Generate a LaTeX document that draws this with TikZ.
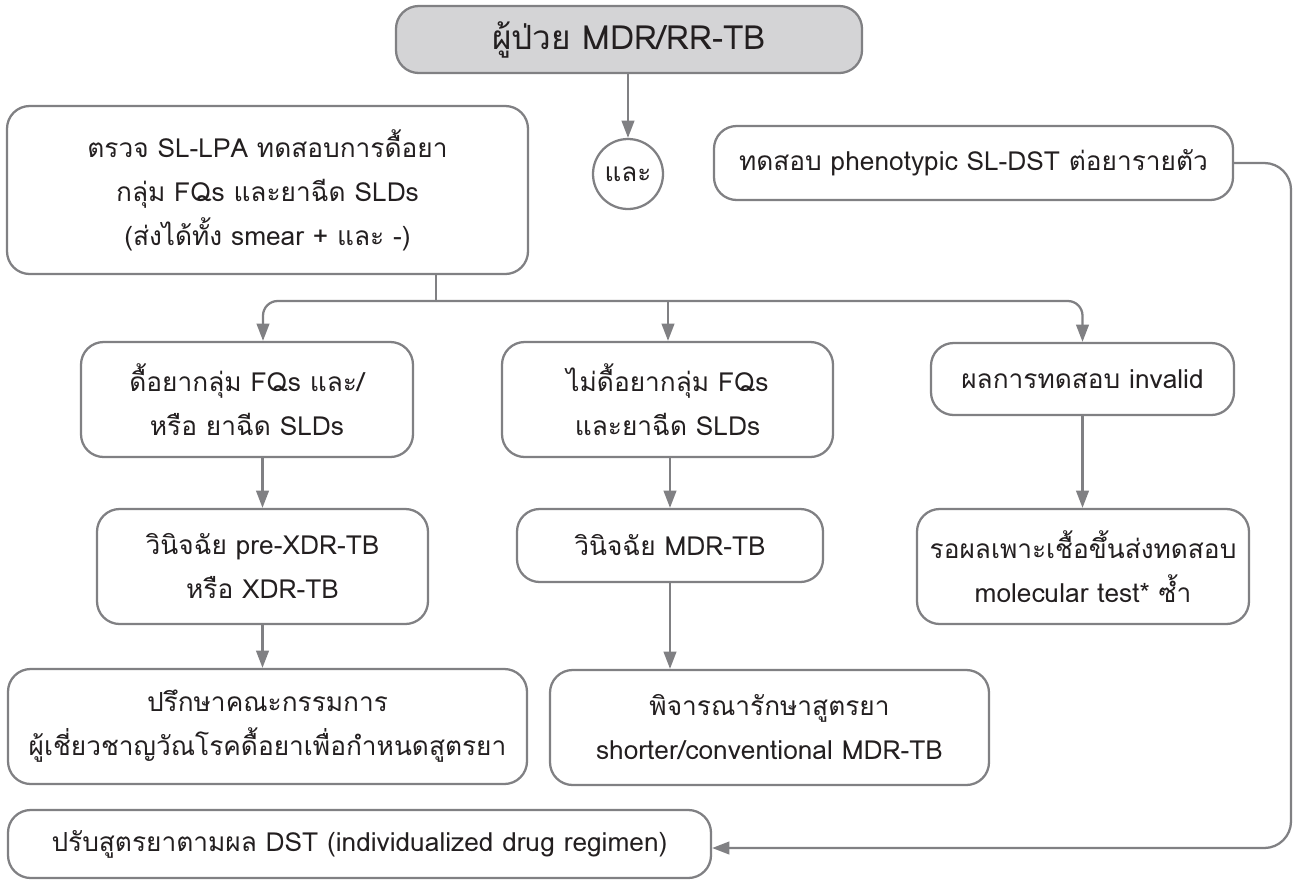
\documentclass[tikz,border=0pt]{standalone}
\usepackage{fontspec}
\setmainfont[Script=Thai]{Loma}
\usetikzlibrary{arrows.meta}
\definecolor{linegray}{RGB}{128,128,131}
\definecolor{boxfill}{RGB}{212,212,214}
\definecolor{inkcol}{RGB}{35,31,32}
\begin{document}
\begin{tikzpicture}[x=0.75pt,y=-0.75pt,
  box/.style={draw=linegray, line width=1.7pt, rounded corners=17pt, align=center,
    text=inkcol, font=\fontsize{19.7}{33}\selectfont, inner sep=0pt},
  sz/.style 2 args={minimum width=#1*0.75pt, minimum height=#2*0.75pt},
  link/.style={draw=linegray, line width=1.7pt},
  arr/.style={link, -{Triangle[length=13pt,width=9.5pt]}}]
\useasboundingbox (0,0) rectangle (1293,883);
% boxes
\node[box, sz={466}{67}, fill=boxfill, font=\fontsize{25}{30}\selectfont] (T) at (629,39.5) {ผู้ป่วย MDR/RR-TB};
\node[draw=linegray, line width=1.7pt, circle, minimum size=52.5pt, inner sep=0pt,
  text=inkcol, font=\fontsize{19.5}{24}\selectfont] (K) at (628,174) {และ};
\node[box, sz={521}{168}] (L) at (267.5,190) {ตรวจ SL-LPA ทดสอบการดื้อยา\\กลุ่ม FQs และยาฉีด SLDs\\(ส่งได้ทั้ง smear + และ -)};
\node[box, sz={519}{74}] (R) at (973.5,163) {ทดสอบ phenotypic SL-DST ต่อยารายตัว};
\node[box, sz={332}{115}] (A) at (247,399.5) {ดื้อยากลุ่ม FQs และ/\\หรือ ยาฉีด SLDs};
\node[box, sz={331}{115}] (B) at (667.5,399.5) {ไม่ดื้อยากลุ่ม FQs\\และยาฉีด SLDs};
\node[box, sz={303}{72}] (C) at (1082.5,379) {ผลการทดสอบ invalid};
\node[box, sz={331}{115}] (D) at (262.5,566.5) {วินิจฉัย pre-XDR-TB\\หรือ XDR-TB};
\node[box, sz={306}{73}] (E) at (670,545.5) {วินิจฉัย MDR-TB};
\node[box, sz={332}{115}] (F) at (1083,566.5) {รอผลเพาะเชื้อขึ้นส่งทดสอบ\\molecular test* ซ้ำ};
\node[box, sz={519}{115}] (G) at (267.5,726.5) {ปรึกษาคณะกรรมการ\\ผู้เชี่ยวชาญวัณโรคดื้อยาเพื่อกำหนดสูตรยา};
\node[box, sz={439}{115}] (H) at (769.5,727.5) {พิจารณารักษาสูตรยา\\shorter/conventional MDR-TB};
\node[box, sz={703}{68}] (Z) at (359.5,844) {ปรับสูตรยาตามผล DST (individualized drug regimen)};
% branch points
\coordinate (sp) at (436,301);
\coordinate (ax) at (263,0);
\coordinate (bx) at (668,0);
\coordinate (rx) at (1291,0);
% connectors
\draw[arr] (T.south -| K) -- (K.north);
\draw[link] (L.south -| sp) -- (sp);
\draw[arr, rounded corners=11pt] (sp) -| (A.north -| ax);
\draw[arr] (sp -| bx) -- (B.north -| bx);
\draw[arr, rounded corners=11pt] (sp) -| (C.north);
\draw[arr] (A.south -| D.north) -- (D.north);
\draw[arr] (D.south) -- (D.south |- G.north);
\draw[arr] (B.south -| E.north) -- (E.north);
\draw[arr] (E.south) -- (E.south |- H.north);
\draw[arr] (C.south) -- (C.south |- F.north);
\draw[arr, rounded corners=20pt] (R.east) -- (R.east -| rx) |- ([yshift=-3pt]Z.east);
\end{tikzpicture}
\end{document}
